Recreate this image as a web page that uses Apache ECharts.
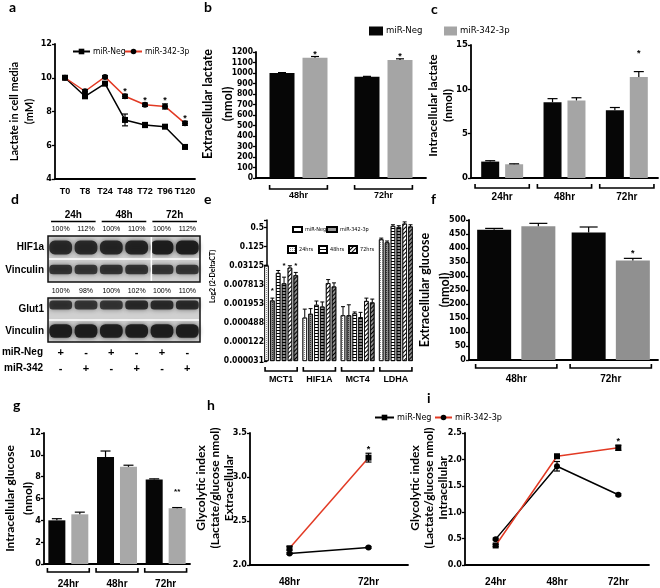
<!DOCTYPE html>
<html><head><meta charset="utf-8">
<script src="https://cdn.jsdelivr.net/npm/echarts@6/dist/echarts.min.js"></script>
<style>html,body{margin:0;padding:0;background:#fff}#c{width:660px;height:588px}</style>
</head><body><div id="c"></div>
<script>
// ================= DATA =================
// a: lactate in cell media (mM)
const timeA = ['T0','T8','T24','T48','T72','T96','T120'];
const aNeg = [10.0, 8.9, 9.65, 7.5, 7.2, 7.1, 5.9];
const aNegErr = [0.08, 0.12, 0.1, 0.35, 0.15, 0.08, 0.1];
const a342 = [10.0, 9.2, 10.05, 8.9, 8.4, 8.3, 7.3];
const a342Err = [0.08, 0.1, 0.08, 0.12, 0.1, 0.15, 0.12];
const aStars = ['', '', '', '*', '*', '*', '*'];
// b: extracellular lactate (nmol)
const catB = ['48hr', '72hr'];
const bNeg = [1000, 965];
const bNegErr = [4, 3];
const b342 = [1145, 1125];
const b342Err = [12, 10];
const bStars = ['*', '*'];
// c: intracellular lactate (nmol)
const catC = ['24hr', '48hr', '72hr'];
const cNeg = [1.85, 8.55, 7.65];
const cNegErr = [0.1, 0.4, 0.3];
const c342 = [1.55, 8.75, 11.4];
const c342Err = [0.05, 0.3, 0.6];
const cStars = ['', '', '*'];
// d: western blot
const blotHeads = ['24h', '48h', '72h'];
const blotLanes = ['L1', 'L2', 'L3', 'L4', 'L5', 'L6'];
const hif1aPct = ['100%', '112%', '100%', '110%', '100%', '112%'];
const glut1Pct = ['100%', '98%', '100%', '102%', '100%', '110%'];
const rowMiRNeg = ['+', '-', '+', '-', '+', '-'];
const rowMiR342 = ['-', '+', '-', '+', '-', '+'];
const hif1aBand = [0.85, 0.85, 0.88, 0.9, 0.95, 0.95];
const vinc1Band = [0.8, 0.78, 0.8, 0.8, 0.78, 0.78];
const glut1Band = [0.8, 0.78, 0.78, 0.85, 0.85, 0.85];
const vinc2Band = [0.95, 0.95, 0.95, 0.95, 0.95, 0.95];
// e: Log2 (2-DeltaCT)
const genes = ['MCT1', 'HIF1A', 'MCT4', 'LDHA'];
const eTickLabels = ['0.000031', '0.000122', '0.000488', '0.001953', '0.007813', '0.03125', '0.125', '0.5'];
const e24Neg = [0.03125, 0.000715, 0.000848, 0.213];
const e24342 = [0.00249, 0.000944, 0.000848, 0.171];
const e48Neg = [0.0185, 0.00182, 0.000977, 0.562];
const e48342 = [0.00867, 0.0016, 0.00074, 0.521];
const e72Neg = [0.0272, 0.0088, 0.0024, 0.669];
const e72342 = [0.0156, 0.00689, 0.00216, 0.543];
const e24NegHi = [0.0323, 0.00133, 0.00159, 0.233];
const e24342Hi = [0.00296, 0.00138, 0.00182, 0.189];
const e48NegHi = [0.0221, 0.0024, 0.00108, 0.616];
const e48342Hi = [0.0136, 0.00224, 0.00105, 0.574];
const e72NegHi = [0.03125, 0.0114, 0.00296, 0.758];
const e72342Hi = [0.0192, 0.00897, 0.00276, 0.616];
const e342Stars = ['*', '', '', ''];
// f: extracellular glucose (nmol)
const catF = ['48hr', '72hr'];
const fNeg = [465, 455];
const fNegErr = [5, 20];
const f342 = [478, 355];
const f342Err = [10, 8];
const fStars = ['', '*'];
// g: intracellular glucose (nmol)
const gNeg = [4.0, 9.8, 7.75];
const gNegErr = [0.15, 0.55, 0.05];
const g342 = [4.55, 8.9, 5.1];
const g342Err = [0.2, 0.15, 0.07];
const gStars = ['', '', '**'];
// h: glycolytic index extracellular
const catH = ['48hr', '72hr'];
const hNeg = [2.13, 2.2];
const hNegErr = [0.01, 0.01];
const h342 = [2.19, 3.22];
const h342Err = [0.02, 0.05];
const hStars = ['', '*'];
// i: glycolytic index intracellular
const iNeg = [0.49, 1.87, 1.33];
const iNegErr = [0.02, 0.09, 0.02];
const i342 = [0.37, 2.06, 2.22];
const i342Err = [0.02, 0.02, 0.05];
const iStars = ['', '', '*'];

// ================= STYLE / BUILD =================
const NARROW = '"Liberation Sans Narrow","DejaVu Sans Condensed","Liberation Sans",sans-serif';
const SANS = '"Liberation Sans",Arial,sans-serif';
const NAMEF = 'Lato,"Open Sans",sans-serif';
const RED = '#e23a24';
const LEG = {a_neg:'miR-Neg', a_342:'miR-342-3p', b_neg:'miR-Neg', b_342:'miR-342-3p',
  el_neg:'miR-Neg', el_342:'miR-342-3p', el_24:'24hrs', el_48:'48hrs', el_72:'72hrs'};

const grids = [], xAxis = [], yAxis = [], series = [], legends = [];

function addPanel(grid, x, y) {
  grid.outerBoundsMode = 'none';
  grids.push(grid);
  const gi = grids.length - 1;
  x.gridIndex = gi; y.gridIndex = gi;
  xAxis.push(x); yAxis.push(y);
  return {gi, xi: xAxis.length - 1, yi: yAxis.length - 1};
}
function axLine(w) { return {show: true, onZero: false, lineStyle: {color: '#000', width: w || 1.8}}; }
function yVal(min, max, interval, fs, name, nameGap, nameFs, lh, padUp, extra) {
  return Object.assign({type: 'value', min, max, interval, axisLine: axLine(),
    axisTick: {show: true, length: 3, lineStyle: {color: '#000', width: 1.3}},
    axisLabel: {margin: 3, color: '#000', fontFamily: NARROW, fontWeight: 'bold', fontSize: fs, formatter: v => String(v)},
    splitLine: {show: false}, name, nameLocation: 'middle', nameRotate: 90, nameGap, nameMoveOverlap: false,
    nameTextStyle: {fontFamily: NAMEF, fontWeight: 'bold', fontSize: nameFs, lineHeight: lh, color: '#000',
      padding: [0, 0, 0, padUp * 2]}}, extra || {});
}
function xCat(data, fs, margin, extra) {
  return Object.assign({type: 'category', data, axisLine: axLine(), axisTick: {show: false},
    axisLabel: {interval: 0, margin, color: '#000', fontFamily: SANS, fontWeight: 'bold', fontSize: fs},
    splitLine: {show: false}}, extra || {});
}
function errBars(p, pts, offset, o) {
  o = o || {};
  return {type: 'custom', xAxisIndex: p.xi, yAxisIndex: p.yi, clip: false, silent: true, z: 5, data: pts,
    renderItem(params, api) {
      const i = api.value(0), v = api.value(1), hi = api.value(2), lo = api.value(3);
      const c = api.coord([i, v]), h = api.coord([i, hi]), l = api.coord([i, lo]);
      const x = c[0] + offset, cw = o.cap || 4, col = '#000', lw = o.lw || 1.2;
      const ch = [
        {type: 'line', shape: {x1: x, y1: h[1], x2: x, y2: l[1]}, style: {stroke: col, lineWidth: lw}},
        {type: 'line', shape: {x1: x - cw, y1: h[1], x2: x + cw, y2: h[1]}, style: {stroke: col, lineWidth: lw}}];
      if (o.both) ch.push({type: 'line', shape: {x1: x - cw, y1: l[1], x2: x + cw, y2: l[1]}, style: {stroke: col, lineWidth: lw}});
      const s = o.stars ? o.stars[i] : '';
      if (s) ch.push({type: 'text', x: x, y: h[1] - (o.starGap || 4),
        style: {text: s, align: 'center', verticalAlign: 'middle', textAlign: 'center', textVerticalAlign: 'middle',
          font: 'bold ' + (o.starFs || 9) + 'px ' + SANS, fill: '#000'}});
      return {type: 'group', children: ch};
    }};
}
function brackets(p, n, frac, dy, up) {
  return {type: 'custom', xAxisIndex: p.xi, yAxisIndex: p.yi, clip: false, silent: true,
    data: Array.from({length: n}, (_, i) => [i]),
    renderItem(params, api) {
      const i = api.value(0), cs = params.coordSys;
      const cx = api.coord([i, 0])[0], bw = api.size([1, 0])[0] * frac / 2, y = cs.y + cs.height + dy;
      return {type: 'polyline', shape: {points: [[cx - bw, y - up], [cx - bw, y], [cx + bw, y], [cx + bw, y - up]]},
        style: {stroke: '#000', lineWidth: 1.6, fill: null}};
    }};
}
function barPair(p, neg, m, w, gapPct, grey, names) {
  const gap = (gapPct * 100) + '%';
  series.push({type: 'bar', name: names[0], xAxisIndex: p.xi, yAxisIndex: p.yi, data: neg, barWidth: w, barGap: gap, itemStyle: {color: '#060606'}});
  series.push({type: 'bar', name: names[1], xAxisIndex: p.xi, yAxisIndex: p.yi, data: m, barWidth: w, barGap: gap, itemStyle: {color: grey}});
  return (w + w * gapPct) / 2;
}
const up = (vals, errs) => vals.map((v, i) => [i, v, v + errs[i], v]);
const both = (vals, errs) => vals.map((v, i) => [i, v, v + errs[i], v - errs[i]]);

// ---- panel a ----
const pA = addPanel({left: 55, top: 44, width: 140, height: 135},
  xCat(timeA, 9, 8), yVal(4, 12, 2, 9, 'Lactate in cell media\n(mM)', 18, 11, 15, 0));
series.push({type: 'line', name: 'a_neg', xAxisIndex: pA.xi, yAxisIndex: pA.yi, data: aNeg, symbol: 'rect', symbolSize: 6,
  itemStyle: {color: '#000'}, lineStyle: {color: '#000', width: 1.5}, z: 3});
series.push({type: 'line', name: 'a_342', xAxisIndex: pA.xi, yAxisIndex: pA.yi, data: a342, symbol: 'circle', symbolSize: 6,
  itemStyle: {color: '#000'}, lineStyle: {color: RED, width: 1.5}, z: 4});
series.push(errBars(pA, both(aNeg, aNegErr), 0, {both: true, cap: 3}));
series.push(errBars(pA, both(a342, a342Err), 0, {both: true, cap: 3, stars: aStars, starGap: 3}));

// ---- panel b ----
const pB = addPanel({left: 256, top: 52, width: 170, height: 126},
  xCat(catB, 9, 13), yVal(0, 1200, 100, 8.5, 'Extracellular lactate\n(nmol)', 18, 12.5, 20, 11));
let off = barPair(pB, bNeg, b342, 25, 0.32, '#a5a5a5', ['b_neg', 'b_342']);
series.push(errBars(pB, up(bNeg, bNegErr), -off, {cap: 4}));
series.push(errBars(pB, up(b342, b342Err), off, {cap: 4, stars: bStars, starGap: 2}));
series.push(brackets(pB, 2, 0.68, 11, 4));

// ---- panel c ----
const pC = addPanel({left: 471, top: 45, width: 187, height: 133},
  xCat(catC, 10, 14), yVal(0, 15, 5, 9.5, 'Intracellular lactate\n(nmol)', 15, 12, 15, 6));
off = barPair(pC, cNeg, c342, 18, 0.33, '#a5a5a5', ['c_neg', 'c_342']);
series.push(errBars(pC, up(cNeg, cNegErr), -off, {cap: 5}));
series.push(errBars(pC, up(c342, c342Err), off, {cap: 5, stars: cStars, starGap: 18}));
series.push(brackets(pC, 3, 0.87, 10, 4));

// ---- panel d (blot) ----
const blotY = (rows) => ({type: 'category', data: rows, inverse: true, axisLine: {show: false}, axisTick: {show: false},
  splitLine: {show: false}, axisLabel: {margin: 4, color: '#000', fontFamily: SANS, fontWeight: 'bold', fontSize: 10}});
const blotX = (pct) => ({type: 'category', data: blotLanes, position: 'top', axisLine: {show: false}, axisTick: {show: false},
  axisLabel: {interval: 0, margin: 3, color: '#000', fontFamily: SANS, fontSize: 7, formatter: (v, i) => pct[i]}});
const blotGrid = (top, h) => ({left: 48, top, width: 152, height: h, show: true, backgroundColor: '#d0d0d0', borderColor: '#111', borderWidth: 1.5});
const pD1 = addPanel(blotGrid(236, 46), blotX(hif1aPct), blotY(['HIF1a', 'Vinculin']));
const pD2 = addPanel(blotGrid(298, 44), blotX(glut1Pct), blotY(['Glut1', 'Vinculin']));
xAxis.push({type: 'category', gridIndex: pD1.gi, data: blotHeads, position: 'top', offset: 14, axisLine: {show: false}, axisTick: {show: false},
  axisLabel: {interval: 0, margin: 2, color: '#000', fontFamily: SANS, fontWeight: 'bold', fontSize: 10}});
const headXi = xAxis.length - 1;
xAxis.push({type: 'category', gridIndex: pD2.gi, data: blotLanes, position: 'bottom', axisLine: {show: false}, axisTick: {show: false},
  axisLabel: {interval: 0, margin: 3, color: '#000', fontFamily: SANS, fontWeight: 'bold', fontSize: 11, lineHeight: 16,
    formatter: (v, i) => rowMiRNeg[i] + '\n' + rowMiR342[i]}});
series.push({type: 'custom', xAxisIndex: headXi, yAxisIndex: pD1.yi, clip: false, silent: true,
  data: blotHeads.map((_, i) => [i]),
  renderItem(params, api) {
    const i = api.value(0), cs = params.coordSys;
    const cx = api.coord([i, 0])[0], bw = api.size([1, 0])[0] * 0.44, y = cs.y - 14.5;
    return {type: 'line', shape: {x1: cx - bw, y1: y, x2: cx + bw, y2: y}, style: {stroke: '#000', lineWidth: 1.6}};
  }});
function bandSeries(p, rows, hfrac, dy) {
  const data = [];
  rows.forEach((arr, r) => arr.forEach((v, lane) => data.push([lane, r, v])));
  return {type: 'custom', xAxisIndex: p.xi, yAxisIndex: p.yi, silent: true, data,
    renderItem(params, api) {
      const lane = api.value(0), r = api.value(1), v = api.value(2);
      const c = api.coord([lane, r]), s = api.size([1, 1]);
      const w = s[0] * 0.9, h = s[1] * hfrac[r];
      return {type: 'rect', shape: {x: c[0] - w / 2, y: c[1] - h / 2 + dy[r], width: w, height: h, r: h / 2.5},
        style: {fill: 'rgba(25,25,25,' + v + ')', shadowBlur: 5, shadowColor: 'rgba(25,25,25,' + (v * 0.8) + ')'}};
    }};
}
series.push(bandSeries(pD1, [hif1aBand, vinc1Band], [0.6, 0.42], [0, -1]));
series.push(bandSeries(pD2, [glut1Band, vinc2Band], [0.4, 0.62], [-4, 0]));
function sepSeries(p, vert) {
  return {type: 'custom', xAxisIndex: p.xi, yAxisIndex: p.yi, silent: true, z: 4, data: [[0]],
    renderItem(params, api) {
      const cs = params.coordSys, ym = cs.y + cs.height / 2;
      const ch = [{type: 'line', shape: {x1: cs.x + 1, y1: ym, x2: cs.x + cs.width - 1, y2: ym}, style: {stroke: '#fff', lineWidth: 1.5}}];
      if (vert) {
        const xv = (api.coord([3, 0])[0] + api.coord([4, 0])[0]) / 2 + 2;
        ch.push({type: 'line', shape: {x1: xv, y1: cs.y + 1, x2: xv, y2: cs.y + cs.height - 1}, style: {stroke: '#fff', lineWidth: 1.5}});
      }
      return {type: 'group', children: ch};
    }};
}
series.push(sepSeries(pD1, true));
series.push(sepSeries(pD2, false));

// ---- panel e ----
const toLog = v => Math.log2(v) + 15;
const pE = addPanel({left: 262, top: 220, width: 153, height: 141},
  xCat(genes, 9, 14, {axisLine: {show: false}}),
  yVal(0, 14.8, 2, 8.5, 'Log2 (2-DeltaCT)', 50, 7, 9, 14,
    {offset: -5, axisLine: {show: true, lineStyle: {color: '#000', width: 1.5}}}));
yAxis[pE.yi].axisLabel.formatter = v => eTickLabels[v / 2] || '';
const D24n = {symbol: 'rect', symbolSize: 1, dashArrayX: [1, 1], dashArrayY: [1, 1], color: '#8a8a8a'};
const D24m = {symbol: 'rect', symbolSize: 1, dashArrayX: [1, 1], dashArrayY: [1, 1], color: '#333'};
const D48 = {symbol: 'rect', symbolSize: 1, dashArrayX: [1, 0], dashArrayY: [1, 2], color: '#000'};
const D72 = {symbol: 'rect', symbolSize: 1, dashArrayX: [1, 0], dashArrayY: [1, 2], rotation: -Math.PI / 4, color: '#000'};
const eDefs = [
  {name: 'e24n', vals: e24Neg, hi: e24NegHi, base: '#ffffff', decal: D24n},
  {name: 'e24m', vals: e24342, hi: e24342Hi, base: '#8c8c8c', decal: D24m, stars: e342Stars, sg: 7},
  {name: 'e48n', vals: e48Neg, hi: e48NegHi, base: '#ffffff', decal: D48},
  {name: 'e48m', vals: e48342, hi: e48342Hi, base: '#8c8c8c', decal: D48, stars: e342Stars, sg: 11},
  {name: 'e72n', vals: e72Neg, hi: e72NegHi, base: '#ffffff', decal: D72},
  {name: 'e72m', vals: e72342, hi: e72342Hi, base: '#8c8c8c', decal: D72, stars: e342Stars, sg: 7}];
const eW = 4.5, eGap = 0.3, eStep = eW * (1 + eGap);
eDefs.forEach((s, k) => {
  series.push({type: 'bar', name: s.name, xAxisIndex: pE.xi, yAxisIndex: pE.yi, data: s.vals.map(toLog),
    barWidth: eW, barGap: (eGap * 100) + '%', itemStyle: {color: s.base, borderColor: '#000', borderWidth: 0.7, decal: s.decal}});
  series.push(errBars(pE, s.vals.map((v, i) => [i, toLog(v), toLog(s.hi[i]), toLog(v)]), (k - 2.5) * eStep,
    {cap: 2, lw: 1, stars: s.stars, starGap: s.sg || 7, starFs: 8}));
});
series.push(brackets(pE, 4, 0.84, 10, 4));
const pEL = addPanel({left: -200, top: -200, width: 10, height: 10},
  {type: 'category', show: false, data: ['x']}, {type: 'value', show: false});
[['el_neg', '#fff', null], ['el_342', '#9a9a9a', null], ['el_24', '#fff', D24n], ['el_48', '#fff', D48], ['el_72', '#fff', D72]]
  .forEach(d => series.push({type: 'bar', name: d[0], xAxisIndex: pEL.xi, yAxisIndex: pEL.yi, data: [],
    itemStyle: {color: d[1], borderColor: '#000', borderWidth: 0.8, decal: d[2] || undefined}}));

// ---- panel f ----
const pF = addPanel({left: 469, top: 220, width: 189, height: 140},
  xCat(catF, 10, 14), yVal(0, 500, 50, 9, 'Extracellular glucose\n(nmol)', 14, 12.5, 20, 0));
off = barPair(pF, fNeg, f342, 34, 0.3, '#909090', ['f_neg', 'f_342']);
series.push(errBars(pF, up(fNeg, fNegErr), -off, {cap: 9}));
series.push(errBars(pF, up(f342, f342Err), off, {cap: 9, stars: fStars, starGap: 5}));
series.push(brackets(pF, 2, 0.86, 8, 4));

// ---- panel g ----
const pG = addPanel({left: 44, top: 433, width: 146, height: 131},
  xCat(catC, 10, 15), yVal(0, 12, 2, 9, 'Intracellular glucose\n(nmol)', 7, 12, 18, 0));
off = barPair(pG, gNeg, g342, 17, 0.35, '#a8a8a8', ['g_neg', 'g_342']);
series.push(errBars(pG, up(gNeg, gNegErr), -off, {cap: 5}));
series.push(errBars(pG, up(g342, g342Err), off, {cap: 5, stars: gStars, starGap: 16, starFs: 8}));
series.push(brackets(pG, 3, 0.86, 8, 4));

// ---- panel h ----
const fmt1 = v => v.toFixed(1);
const pH = addPanel({left: 250, top: 433, width: 158, height: 132},
  xCat(catH, 10, 12), yVal(2, 3.5, 0.5, 9, 'Glycolytic index\n(Lactate/glucose nmol)\nExtracellular', 14, 12, 14, 11));
yAxis[pH.yi].axisLabel.formatter = fmt1;
series.push({type: 'line', name: 'h_neg', xAxisIndex: pH.xi, yAxisIndex: pH.yi, data: hNeg, symbol: 'circle', symbolSize: 6,
  itemStyle: {color: '#000'}, lineStyle: {color: '#000', width: 1.5}, z: 3});
series.push({type: 'line', name: 'h_342', xAxisIndex: pH.xi, yAxisIndex: pH.yi, data: h342, symbol: 'rect', symbolSize: 6,
  itemStyle: {color: '#000'}, lineStyle: {color: RED, width: 1.5}, z: 4});
series.push(errBars(pH, both(hNeg, hNegErr), 0, {both: true, cap: 3}));
series.push(errBars(pH, both(h342, h342Err), 0, {both: true, cap: 3, stars: hStars, starGap: 4}));

// ---- panel i ----
const pI = addPanel({left: 465, top: 433, width: 184, height: 132},
  xCat(catC, 10, 12), yVal(0, 2.5, 0.5, 9, 'Glycolytic index\n(Lactate/glucose nmol)\nIntracellular', 15, 12, 14, 11));
yAxis[pI.yi].axisLabel.formatter = fmt1;
series.push({type: 'line', name: 'i_neg', xAxisIndex: pI.xi, yAxisIndex: pI.yi, data: iNeg, symbol: 'circle', symbolSize: 6,
  itemStyle: {color: '#000'}, lineStyle: {color: '#000', width: 1.5}, z: 3});
series.push({type: 'line', name: 'i_342', xAxisIndex: pI.xi, yAxisIndex: pI.yi, data: i342, symbol: 'rect', symbolSize: 6,
  itemStyle: {color: '#000'}, lineStyle: {color: RED, width: 1.5}, z: 4});
series.push(errBars(pI, both(iNeg, iNegErr), 0, {both: true, cap: 3}));
series.push(errBars(pI, both(i342, i342Err), 0, {both: true, cap: 3, stars: iStars, starGap: 4}));

// ---- legends ----
function leg(name, left, top, w, h, fs, icon) {
  const l = {data: [name], left, top, itemWidth: w, itemHeight: h, selectedMode: false, padding: 0,
    formatter: n => LEG[n], textStyle: {fontSize: fs, fontFamily: NARROW, color: '#000', padding: [0, 0, 0, -2]}};
  if (icon) l.icon = icon;
  legends.push(l);
}
leg('a_neg', 72, 47, 17, 7, 8.5);
leg('a_342', 124, 47, 17, 7, 8.5);
leg('b_neg', 369, 26, 14, 9, 9.5, 'rect');
leg('b_342', 444, 26, 13, 9, 9.5, 'rect');
leg('el_neg', 292, 226, 9, 5, 5.5, 'rect');
leg('el_342', 326, 226, 10, 5, 5.5, 'rect');
leg('el_24', 287, 245, 8, 7, 5.5, 'rect');
leg('el_48', 318, 245, 8, 7, 5.5, 'rect');
leg('el_72', 348, 245, 8, 7, 5.5, 'rect');
leg('a_neg', 374, 413, 19, 7, 9);
leg('a_342', 434, 413, 17, 7, 9);

// ---- panel letters ----
const letters = [['a', 9, 0], ['b', 204, 0], ['c', 431, 2], ['d', 11, 192], ['e', 204, 192], ['f', 431, 192],
  ['g', 13, 398], ['h', 207, 398], ['i', 427, 391]];
const titles = letters.map(t => ({text: t[0], left: t[1], top: t[2], padding: 0,
  textStyle: {fontSize: 14, fontWeight: 'bold', fontFamily: NAMEF, color: '#000'}}));

const chart = echarts.init(document.getElementById('c'), null, {renderer: 'canvas'});
chart.setOption({
  animation: false, backgroundColor: '#fff',
  textStyle: {fontFamily: SANS},
  title: titles, legend: legends, grid: grids, xAxis, yAxis, series,
  graphic: [
    {type: 'text', x: 43, y: 352, style: {text: 'miR-Neg', align: 'right', verticalAlign: 'middle', textAlign: 'right', textVerticalAlign: 'middle', font: 'bold 10px ' + SANS, fill: '#000'}},
    {type: 'text', x: 43, y: 368, style: {text: 'miR-342', align: 'right', verticalAlign: 'middle', textAlign: 'right', textVerticalAlign: 'middle', font: 'bold 10px ' + SANS, fill: '#000'}}
  ]
});
</script></body></html>
